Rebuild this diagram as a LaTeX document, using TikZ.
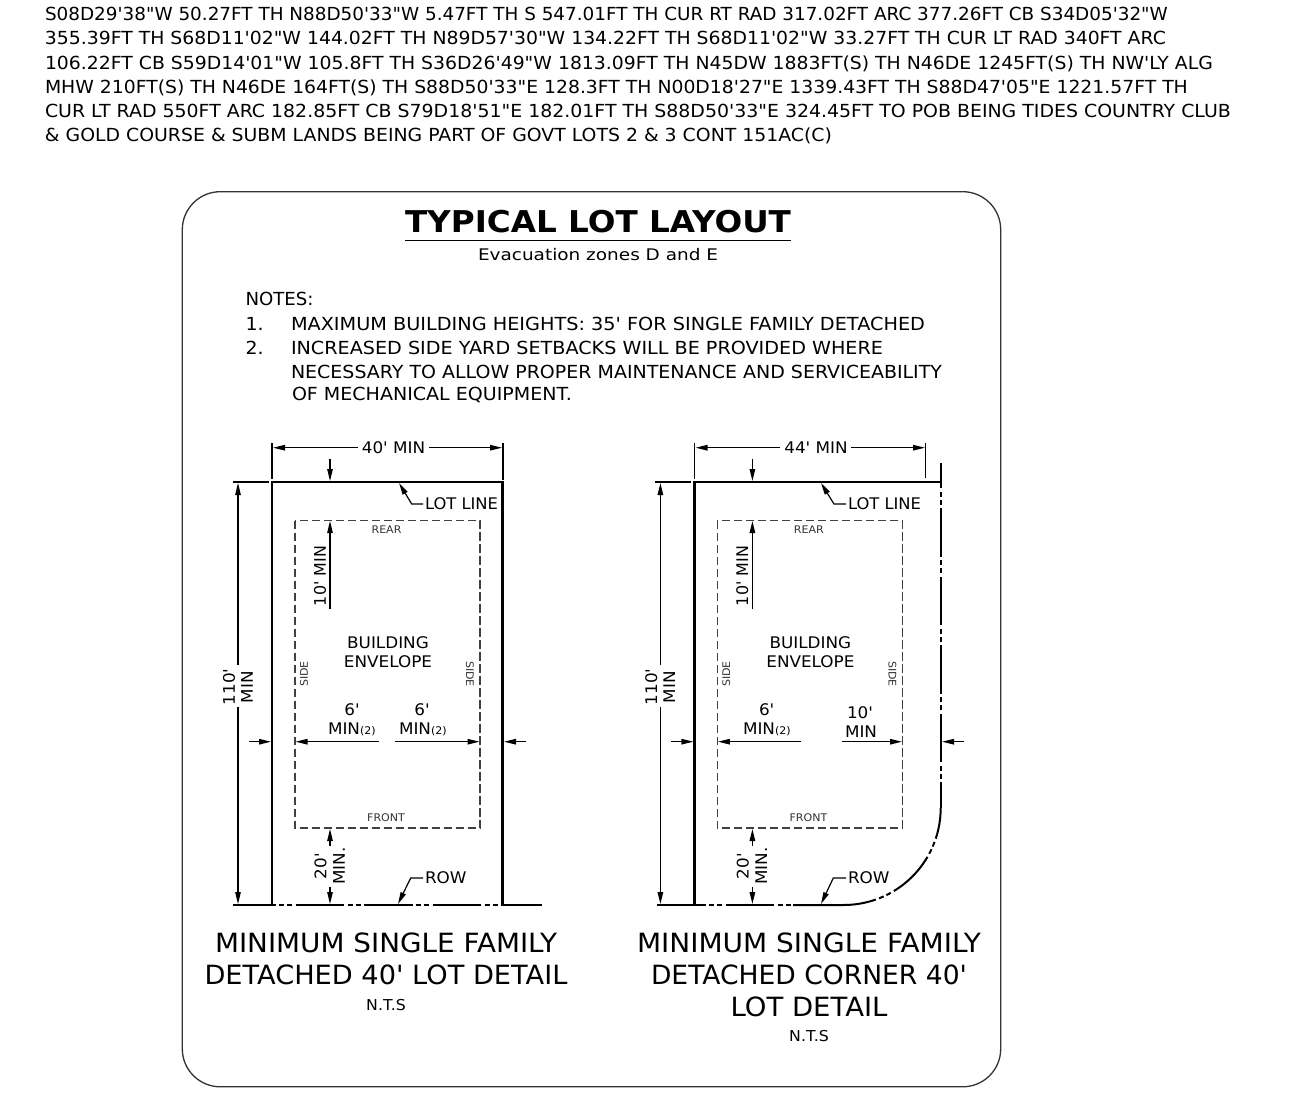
\documentclass[tikz,border=0pt]{standalone}
\usepackage{fontspec}
\usepackage{graphicx}
\usetikzlibrary{arrows.meta}
\newfontfamily\vf[FakeStretch=1.05]{DejaVu Sans}
\newsavebox{\fitbox}
\newcommand{\fitw}[2]{\sbox{\fitbox}{#2}\pgfmathsetmacro{\fitr}{#1/(\wd\fitbox/1pt)}\scalebox{\fitr}[1]{\usebox{\fitbox}}}
\tikzset{
  txt/.style={inner sep=0pt,outer sep=0pt,text=black,font=\vf\fontsize{16}{18}\selectfont},
  para/.style={txt,anchor=base west,font=\vf\fontsize{18}{20}\selectfont},
  dimtxt/.style={txt,anchor=center},
  tinytxt/.style={txt,anchor=center,text=black!80,font=\vf\fontsize{10.5}{12}\selectfont},
  captxt/.style={txt,anchor=center,font=\vf\fontsize{26.5}{30}\selectfont},
  thindim/.style={line width=1.2pt,black},
  arr/.style={thindim,-{Triangle[length=12pt,width=5.5pt]}},
  lotline/.style={line width=2.4pt,black},
  env/.style={line width=1.3pt,black!75,dash pattern=on 8.5pt off 3.5pt},
  cdash/.style={line width=2pt,black,dash pattern=on 48.5pt off 3.5pt on 5pt off 3pt on 5pt off 3.5pt},
}
\newcommand{\lotcommon}{%
  % envelope
  \draw[env] (295,520.5) rectangle (480,828);
  % top arrow and 110 dimension
  \draw[arr] (330,459) -- (330,481);
  \draw[thindim] (233,482) -- (269,482);
  \draw[thindim] (272,443) -- (272,479);
  \draw[arr] (238,665) -- (238,483);
  \draw[arr] (238,707) -- (238,904);
  \node[dimtxt,rotate=90] (h1) at (229,687) {110'};
  \node[dimtxt,rotate=90] (h2) at (247,687) {MIN};
  % 10' min
  \draw[arr] (330,609) -- (330,521);
  \node[dimtxt,rotate=90] (ten) at (320,576) {\fitw{60}{10' MIN}};
  % envelope labels
  \node[tinytxt] (rear) at (386.5,530) {REAR};
  \node[tinytxt] (front) at (386,818) {FRONT};
  \node[tinytxt,rotate=90] (sl) at (304,674) {SIDE};
  \node[tinytxt,rotate=-90] (sr) at (470,674) {SIDE};
  \node[dimtxt] (b1) at (388,642.5) {BUILDING};
  \node[dimtxt] (b2) at (388,661.5) {ENVELOPE};
  % left outer arrow
  \draw[arr] (249,741.7) -- (271,741.7);
  \draw[arr] (379,741.7) -- (295.5,741.7);
  % 20' min
  \draw[arr] (330,846) -- (330,829);
  \draw[arr] (330,887) -- (330,904);
  \node[dimtxt,rotate=90] (t1) at (320.5,866) {20'};
  \node[dimtxt,rotate=90] (t2) at (339,866) {MIN.};
  % lot line left
  \draw[lotline] (272,905) -- (272,481);
}
\begin{document}
\begin{tikzpicture}[x=1pt,y=-1pt]
\useasboundingbox (0,0) rectangle (1307,1099);
\fill[white] (0,0) rectangle (1307,1099);
% top paragraph
\node[para] (p1) at (45,21) {\fitw{1123}{S08D29'38"W 50.27FT TH N88D50'33"W 5.47FT TH S 547.01FT TH CUR RT RAD 317.02FT ARC 377.26FT CB S34D05'32"W}};
\node[para] (p2) at (45,45) {\fitw{1121}{355.39FT TH S68D11'02"W 144.02FT TH N89D57'30"W 134.22FT TH S68D11'02"W 33.27FT TH CUR LT RAD 340FT ARC}};
\node[para] (p3) at (45,69.5) {\fitw{1168}{106.22FT CB S59D14'01"W 105.8FT TH S36D26'49"W 1813.09FT TH N45DW 1883FT(S) TH N46DE 1245FT(S) TH NW'LY ALG}};
\node[para] (p4) at (45,93.5) {\fitw{1143}{MHW 210FT(S) TH N46DE 164FT(S) TH S88D50'33"E 128.3FT TH N00D18'27"E 1339.43FT TH S88D47'05"E 1221.57FT TH}};
\node[para] (p5) at (45,118) {\fitw{1186}{CUR LT RAD 550FT ARC 182.85FT CB S79D18'51"E 182.01FT TH S88D50'33"E 324.45FT TO POB BEING TIDES COUNTRY CLUB}};
\node[para] (p6) at (45,142) {\fitw{787}{\& GOLD COURSE \& SUBM LANDS BEING PART OF GOVT LOTS 2 \& 3 CONT 151AC(C)}};
% frame
\draw[line width=1.3pt,black!80,rounded corners=38pt] (182.3,191.7) rectangle (1000.7,1086.8);
% title
\node[txt,anchor=base,font=\vf\bfseries\fontsize{30}{33}\selectfont] (title) at (598,233) {\fitw{386}{TYPICAL LOT LAYOUT}};
\draw[line width=1.5pt,black] (405,240.5) -- (791,240.5);
\node[dimtxt] (sub) at (598,255) {\fitw{240}{Evacuation zones D and E}};
% notes
\node[para] (n0) at (245.5,306) {\fitw{68}{NOTES:}};
\node[para] (n1a) at (245.5,331) {1.};
\node[para] (n1) at (291,331) {\fitw{634}{MAXIMUM BUILDING HEIGHTS: 35' FOR SINGLE FAMILY DETACHED}};
\node[para] (n2a) at (245.5,354.5) {2.};
\node[para] (n2) at (291,354.5) {\fitw{592}{INCREASED SIDE YARD SETBACKS WILL BE PROVIDED WHERE}};
\node[para] (n3) at (291,378) {\fitw{651}{NECESSARY TO ALLOW PROPER MAINTENANCE AND SERVICEABILITY}};
\node[para] (n4) at (292,400) {\fitw{280}{OF MECHANICAL EQUIPMENT.}};
% ===== left lot =====
\begin{scope}[name prefix=L-]
\lotcommon
\draw[lotline] (270.8,482) -- (502.5,482) -- (502.5,905);
\draw[thindim] (503,443) -- (503,480);
\draw[arr] (358,447.7) -- (273,447.7);
\draw[arr] (429,447.7) -- (502,447.7);
\node[dimtxt] (w) at (393.5,448) {40' MIN};
\node[dimtxt,anchor=west] (lot) at (425,503.5) {\fitw{73}{LOT LINE}};
\draw[arr] (lot.west) ++(-2,0.5) -- (411.7,504) -- (399,483);
\node[dimtxt] (s1) at (352,710) {6'};
\node[dimtxt,anchor=west] (m1) at (328,729.5) {MIN{\fontsize{10.5}{12}\selectfont(2)}};
\node[dimtxt] (s2) at (422,710) {6'};
\node[dimtxt,anchor=west] (m2) at (399,729.5) {MIN{\fontsize{10.5}{12}\selectfont(2)}};
\draw[arr] (395,741.7) -- (479.5,741.7);
\draw[arr] (526,741.7) -- (504,741.7);
\node[dimtxt,anchor=west] (row) at (425,878) {ROW};
\draw[arr] (row.west) ++(-2,0) -- (410.7,878) -- (398,904);
\draw[cdash,dash phase=6pt] (233,905) -- (541.7,905);
\node[captxt] (c1) at (386,943) {\fitw{342}{MINIMUM SINGLE FAMILY}};
\node[captxt] (c2) at (386,975) {\fitw{363}{DETACHED 40' LOT DETAIL}};
\node[dimtxt,font=\vf\fontsize{15}{17}\selectfont] (c3) at (386,1005) {N.T.S};
\end{scope}
% ===== right lot =====
\begin{scope}[xshift=422.4pt,name prefix=R-]
\lotcommon
\end{scope}
\begin{scope}[name prefix=R-]
\draw[lotline] (693.2,482) -- (941.7,482);
\draw[thindim] (925.5,443) -- (925.5,478);
\draw[arr] (780,447.7) -- (695.5,447.7);
\draw[arr] (851,447.7) -- (925,447.7);
\node[dimtxt] (w) at (816,448) {44' MIN};
\node[dimtxt,anchor=west] (lot) at (848,503.5) {\fitw{73}{LOT LINE}};
\draw[arr] (lot.west) ++(-2,0.5) -- (834,504) -- (821,483);
\node[dimtxt] (s1) at (766.7,710) {6'};
\node[dimtxt,anchor=west] (m1) at (743,729.5) {MIN{\fontsize{10.5}{12}\selectfont(2)}};
\node[dimtxt] (s2) at (860,713) {10'};
\node[dimtxt,anchor=west] (m2) at (845,732) {MIN};
\draw[arr] (842,741.7) -- (902,741.7);
\draw[arr] (963.7,741.7) -- (942,741.7);
\node[dimtxt,anchor=west] (row) at (848,878) {ROW};
\draw[arr] (row.west) ++(-2,0) -- (833.3,878) -- (821,904);
\draw[cdash] (657,905) -- (793,905);
\begin{scope}[y=1pt,yshift=-1099pt]
\draw[line width=2pt,black] (793,194) -- (843.7,194) arc[start angle=270,delta angle=19.3,radius=97pt];
\draw[cdash,dash phase=48.5pt] ({843.7+97*sin(19.3)},{291-97*cos(19.3)}) arc[start angle=289.3,end angle=360,radius=97pt];
\draw[line width=2pt,black] (940.7,291) -- (940.7,317);
\draw[cdash,dash phase=48.5pt] (940.7,317) -- (940.7,636.3);
\end{scope}
\node[captxt] (c1) at (809,943) {\fitw{344}{MINIMUM SINGLE FAMILY}};
\node[captxt] (c2) at (809,975) {\fitw{316}{DETACHED CORNER 40'}};
\node[captxt] (c4) at (809,1007) {\fitw{157}{LOT DETAIL}};
\node[dimtxt,font=\vf\fontsize{15}{17}\selectfont] (c3) at (809,1036) {N.T.S};
\end{scope}
\end{tikzpicture}
\end{document}
